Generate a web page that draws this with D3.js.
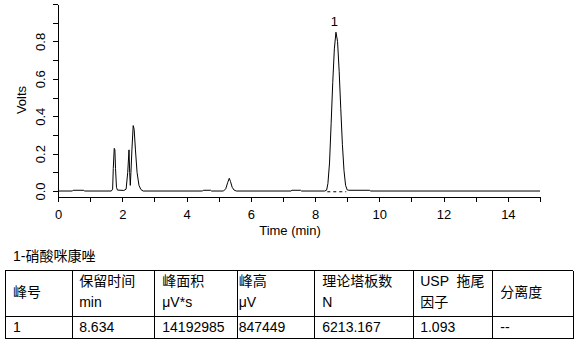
<!DOCTYPE html>
<html><head><meta charset="utf-8">
<script src="https://cdn.jsdelivr.net/npm/d3@7"></script>
<style>
html,body{margin:0;padding:0;background:#fff;}
text{font-family:"Liberation Sans",Arial,"Noto Sans CJK SC",sans-serif;fill:#000;}
</style></head>
<body><svg id="c" width="582" height="347"></svg>
<script>
// ---- data ----
const timeMin = [0,0.45,0.47,0.80,0.82,1.66,1.70,1.72,1.75,1.77,1.79,1.82,1.85,2.05,2.12,2.17,2.21,2.23,2.25,2.27,2.30,2.34,2.37,2.41,2.46,2.52,2.58,2.65,4.50,4.52,4.75,4.78,5.15,5.22,5.28,5.33,5.37,5.42,5.48,5.55,7.25,7.28,7.55,7.58,8.30,8.36,8.40,8.45,8.50,8.55,8.60,8.65,8.70,8.75,8.80,8.85,8.90,8.95,9.00,9.05,9.70,9.72,15];
const volts   = [0,0,0.004,0.004,0,0,0.01,0.12,0.228,0.22,0.12,0.02,0.005,0.003,0.01,0.10,0.22,0.10,0.03,0.10,0.22,0.35,0.33,0.22,0.10,0.03,0.008,0,0,0.004,0.004,0,0,0.012,0.045,0.068,0.05,0.02,0.005,0,0,0.004,0.004,0,0,0.005,0.04,0.15,0.36,0.58,0.76,0.849,0.80,0.64,0.44,0.25,0.11,0.03,0.006,0.004,0.004,0,0];
const peakBaseline = [[8.38,-0.004],[8.97,-0.004]];
const peakLabels = [{name:"1", t:8.634, v:0.849}];
const xTicks = [0,1,2,3,4,5,6,7,8,9,10,11,12,13,14,15];
const yTicks = [0,0.1,0.2,0.3,0.4,0.5,0.6,0.7,0.8,0.9,1.0];
const xTitle = "Time (min)";
const yTitle = "Volts";
const tableTitle = "1-硝酸咪康唑";
const headers = [["峰号"],["保留时间","min"],["峰面积","μV*s"],["峰高","μV"],["理论塔板数","N"],["USP  拖尾","因子"],["分离度"]];
const rowValues = ["1","8.634","14192985","847449","6213.167","1.093","--"];

// ---- chart ----
const svg = d3.select("#c");
const x = d3.scaleLinear().domain([0,15]).range([58,540]);
const y = d3.scaleLinear().domain([-0.032,1.0]).range([197,4]);

const xa = svg.append("g").attr("transform","translate(0,197)")
  .call(d3.axisBottom(x).tickValues(xTicks).tickSize(5).tickSizeOuter(0)
    .tickFormat(d => d % 2 === 0 ? d : ""));
xa.select(".domain").attr("stroke","#000").attr("shape-rendering","crispEdges");
xa.selectAll(".tick line").attr("stroke","#000").attr("shape-rendering","crispEdges");
xa.selectAll("text").attr("y",21.5).attr("dy",0).style("font-size","13px");

const ya = svg.append("g").attr("transform","translate(58,0)")
  .call(d3.axisLeft(y).tickValues(yTicks).tickSize(5).tickSizeOuter(0)
    .tickFormat(d => (Math.round(d*10) % 2 === 0 && d < 0.95) ? d3.format(".1f")(d) : ""));
ya.select(".domain").attr("stroke","#000").attr("shape-rendering","crispEdges");
ya.selectAll(".tick line").attr("stroke","#000").attr("shape-rendering","crispEdges");
ya.selectAll("text").attr("transform","rotate(-90)").attr("x",0).attr("y",-13.5)
  .attr("dy",0).attr("text-anchor","middle").style("font-size","13px");

svg.append("text").attr("x",290).attr("y",234.5).attr("text-anchor","middle")
  .style("font-size","13px").text(xTitle);
svg.append("text").attr("transform","translate(26,100) rotate(-90)").attr("text-anchor","middle")
  .style("font-size","13px").text(yTitle);

const pts = timeMin.map((t,i)=>[t,volts[i]]);
svg.append("path").datum(pts)
  .attr("d", d3.line().x(d=>x(d[0])).y(d=>y(d[1])))
  .attr("fill","none").attr("stroke","#000").attr("stroke-width",1);
svg.append("path").datum(peakBaseline)
  .attr("d", d3.line().x(d=>x(d[0])).y(d=>y(d[1])))
  .attr("fill","none").attr("stroke","#000").attr("stroke-width",1).attr("stroke-dasharray","3,3");

svg.selectAll(".pl").data(peakLabels).enter().append("text")
  .attr("x",d=>x(d.t)-1).attr("y",25.5).attr("text-anchor","middle")
  .style("font-size","13px").text(d=>d.name);

// ---- table ----
svg.append("text").attr("x",13).attr("y",261).style("font-size","14px").text(tableTitle);
const colX = [5,71.7,154.3,236.7,314.3,412.7,492.3,573.3];
const pads = [8,7.5,8,2,8,7.5,8];
const rowY = [269.5,315.5,337.5];
const tg = svg.append("g").attr("shape-rendering","crispEdges");
rowY.forEach(ry => tg.append("line").attr("x1",colX[0]).attr("x2",colX[7]).attr("y1",Math.round(ry)+0.5).attr("y2",Math.round(ry)+0.5).attr("stroke","#000"));
colX.forEach(cx => tg.append("line").attr("x1",Math.round(cx)+0.5).attr("x2",Math.round(cx)+0.5).attr("y1",Math.round(rowY[0])+0.5).attr("y2",Math.round(rowY[2])+0.5).attr("stroke","#000"));
headers.forEach((h,i)=>{
  if (h.length === 1) {
    svg.append("text").attr("x",colX[i]+pads[i]).attr("y",296.5).style("font-size","14px").text(h[0]);
  } else {
    svg.append("text").attr("x",colX[i]+pads[i]).attr("y",285.5).style("font-size","14px").style("white-space","pre").text(h[0]);
    svg.append("text").attr("x",colX[i]+pads[i]).attr("y",306.5).style("font-size","14px").text(h[1]);
  }
});
rowValues.forEach((v,i)=>{
  svg.append("text").attr("x",colX[i]+pads[i]).attr("y",331.5).style("font-size","14px").text(v);
});
</script></body></html>
